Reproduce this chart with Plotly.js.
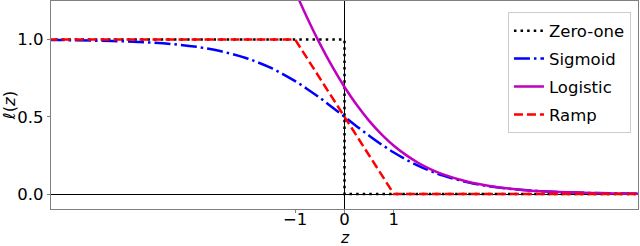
<!DOCTYPE html>
<html>
<head>
<meta charset="utf-8">
<script src="https://cdn.plot.ly/plotly-3.0.1.min.js"></script>
<style>html,body{margin:0;padding:0;background:#fff;}#chart{width:640px;height:246px;}</style>
</head>
<body>
<div id="chart"></div>
<script>
// Sample points along z
const zVals = [-6, -5.5, -5, -4.5, -4, -3.5, -3, -2.5, -2, -1.75, -1.5, -1.25, -1, -0.75, -0.5, -0.25, 0,
               0.25, 0.5, 0.75, 1, 1.25, 1.5, 1.75, 2, 2.5, 3, 3.5, 4, 4.5, 5, 5.5, 6];
// Sigmoid loss values
const sigmoidVals = [0.998, 0.996, 0.993, 0.989, 0.982, 0.971, 0.953, 0.924, 0.881, 0.852, 0.818, 0.777, 0.731, 0.679, 0.623, 0.562, 0.5,
                     0.438, 0.378, 0.321, 0.269, 0.223, 0.182, 0.148, 0.119, 0.076, 0.047, 0.029, 0.018, 0.011, 0.007, 0.004, 0.002];
// Logistic loss values (above the top of the plot on the left)
const logisticVals = [6.002, 5.504, 5.007, 4.511, 4.018, 3.530, 3.049, 2.579, 2.127, 1.910, 1.701, 1.502, 1.313, 1.137, 0.974, 0.826, 0.693,
                      0.576, 0.474, 0.387, 0.313, 0.252, 0.201, 0.160, 0.127, 0.079, 0.049, 0.030, 0.018, 0.011, 0.007, 0.004, 0.002];
// Ramp loss breakpoints
const rampZ = [-6, -1, 1, 6];
const rampVals = [1, 1, 0, 0];
// Zero-one loss breakpoints
const zeroOneZ = [-6, 0, 0, 6];
const zeroOneVals = [1, 1, 0, 0];

const seriesNames = ['Zero-one', 'Sigmoid', 'Logistic', 'Ramp'];
const xTickVals = [-1, 0, 1];
const xTickText = ['\u22121', '0', '1'];
const yTickVals = [0, 0.5, 1];
const yTickText = ['0.0', '0.5', '1.0'];
const xTitle = '<i>z</i>';
const yTitle = '<i>\u2113</i>(<i>z</i>)';

const traces = [
  {x: zeroOneZ, y: zeroOneVals, name: seriesNames[0], legendgroup: 'a', mode: 'lines',
   line: {color: '#000000', width: 2.5, dash: '2.5px,4.1px'}},
  {x: zVals, y: sigmoidVals, name: seriesNames[1], legendgroup: 'b', mode: 'lines',
   line: {color: '#0000ff', width: 2.5, dash: '16px,4px,2.5px,4px', shape: 'spline'}},
  {x: zVals, y: logisticVals, name: seriesNames[2], legendgroup: 'c', mode: 'lines',
   line: {color: '#bf00bf', width: 2.5, shape: 'spline'}},
  {x: rampZ, y: rampVals, name: seriesNames[3], legendgroup: 'd', mode: 'lines',
   line: {color: '#ff0000', width: 2.5, dash: '9px,4px'}}
];

const font = {family: 'DejaVu Sans', size: 16.5, color: '#000'};

const layout = {
  width: 640, height: 246,
  margin: {l: 51, r: 2, t: 1, b: 37, pad: 0},
  paper_bgcolor: '#fff', plot_bgcolor: '#fff',
  font: font,
  showlegend: true,
  legend: {
    x: 0.988, y: 0.945, xanchor: 'right', yanchor: 'top',
    bgcolor: 'rgba(255,255,255,0.8)', bordercolor: '#cccccc', borderwidth: 1,
    font: font,
    tracegroupgap: 3.5
  },
  xaxis: {
    range: [-5.95, 5.95],
    tickvals: xTickVals, ticktext: xTickText,
    ticks: 'outside', ticklen: 3, tickwidth: 1, tickcolor: '#808080',
    ticklabelstandoff: -8,
    showgrid: false,
    zeroline: true, zerolinecolor: '#000', zerolinewidth: 1,
    showline: true, linecolor: '#808080', linewidth: 1.3, mirror: true,
    tickfont: font
  },
  yaxis: {
    range: [-0.097, 1.25],
    tickvals: yTickVals, ticktext: yTickText,
    ticks: 'outside', ticklen: 3, tickwidth: 1, tickcolor: '#808080',
    showgrid: false,
    zeroline: true, zerolinecolor: '#000', zerolinewidth: 1,
    showline: true, linecolor: '#808080', linewidth: 1.3, mirror: true,
    title: {text: yTitle, font: font, standoff: 4},
    tickfont: font
  },
  annotations: [
    {text: xTitle, xref: 'x', yref: 'paper', x: 0, y: -0.1395, xanchor: 'center', yanchor: 'middle',
     height: 12, borderpad: 0, showarrow: false, font: {family: 'DejaVu Sans', size: 15.5, color: '#000'}}
  ]
};

Plotly.newPlot('chart', traces, layout, {staticPlot: true, displayModeBar: false});
</script>
</body>
</html>
